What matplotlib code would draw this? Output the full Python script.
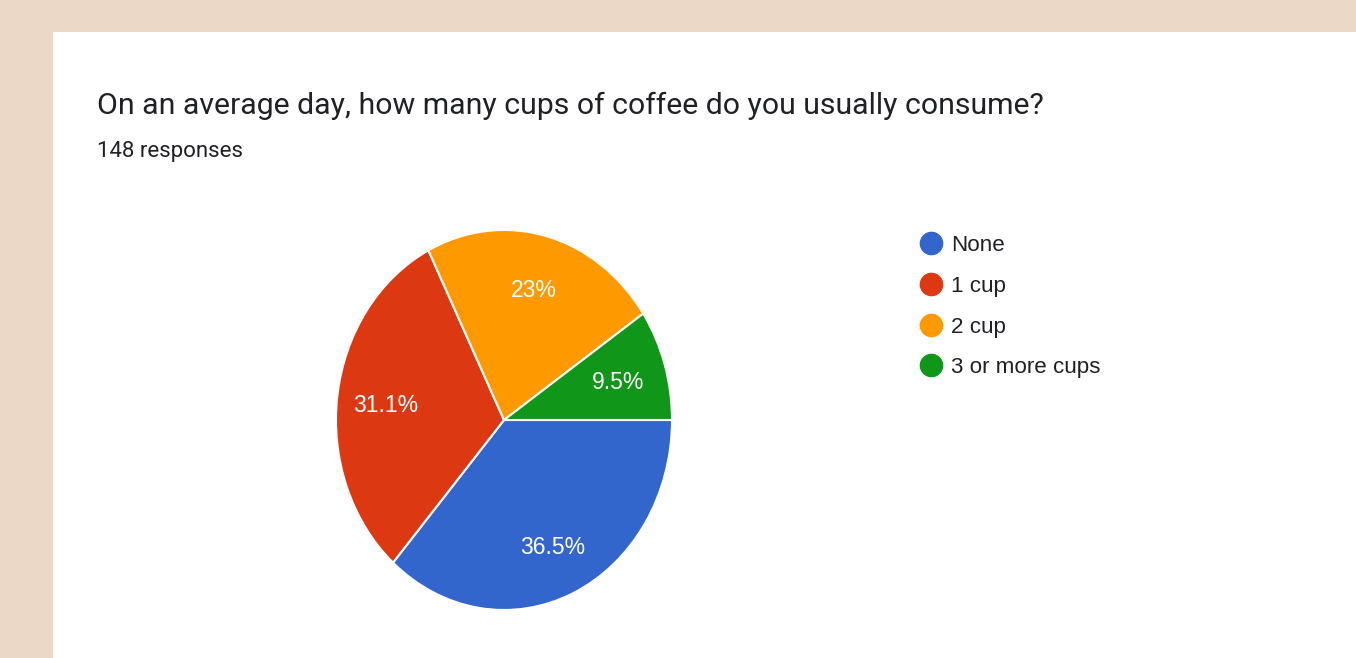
import numpy as np
import matplotlib.pyplot as plt
from matplotlib.lines import Line2D
from matplotlib.patches import Rectangle

plt.rcParams['font.family'] = ['Roboto', 'DejaVu Sans']
chart_font = ['Liberation Sans', 'DejaVu Sans']

# survey answers (148 responses)
answers = ['None', '1 cup', '2 cup', '3 or more cups']
counts = [54, 46, 34, 14]
pct_labels = ['36.5%', '31.1%', '23%', '9.5%']
colors = ['#3366cc', '#dc3912', '#ff9900', '#109618']

W, H = 1356, 658
fig = plt.figure(figsize=(W / 100, H / 100), dpi=100)
fig.patch.set_facecolor('#ecd8c6')

# white card behind the chart
fig.patches.append(Rectangle((53 / W, 0), 1 - 53 / W, 1 - 32 / H,
                             transform=fig.transFigure, facecolor='white',
                             edgecolor='none', zorder=-1))

fig.text(97 / W, 1 - 106 / H, 'On an average day, how many cups of coffee do you usually consume?',
         fontsize=21.8, color='#202124', va='center', ha='left')
fig.text(97 / W, 1 - 151 / H, '148 responses', fontsize=16, color='#202124',
         va='center', ha='left')

# pie axes (slightly taller than wide)
ax = fig.add_axes([336 / W, (H - 610) / H, 336 / W, 380 / H], zorder=2)
ax.patch.set_visible(False)
wedges, texts = ax.pie(counts, colors=colors, startangle=0, counterclock=False,
                       wedgeprops=dict(edgecolor='white', linewidth=1.5))
ax.set_aspect('auto')
ax.set_xlim(-1, 1)
ax.set_ylim(-1, 1)

# percentage labels at the middle of each wedge
total = sum(counts)
start = 0.0
for c, lab in zip(counts, pct_labels):
    mid = np.deg2rad(start - 360 * c / total / 2)
    start -= 360 * c / total
    ax.text(0.71 * np.cos(mid), 0.72 * np.sin(mid), lab, color='white',
            fontsize=16.5, family=chart_font, ha='center', va='center_baseline')

handles = [Line2D([], [], marker='o', linestyle='none', markersize=16,
                  markerfacecolor=c, markeredgecolor=c) for c in colors]
fig.legend(handles, answers, loc='upper left', bbox_to_anchor=(906 / W, 1 - 224 / H),
           frameon=False, handletextpad=0.32, labelspacing=0.88,
           borderpad=0, handlelength=1.2, labelcolor='#202124',
           prop=dict(family=chart_font, size=16.1))

fig.savefig('out.png', dpi=100, facecolor=fig.get_facecolor())
